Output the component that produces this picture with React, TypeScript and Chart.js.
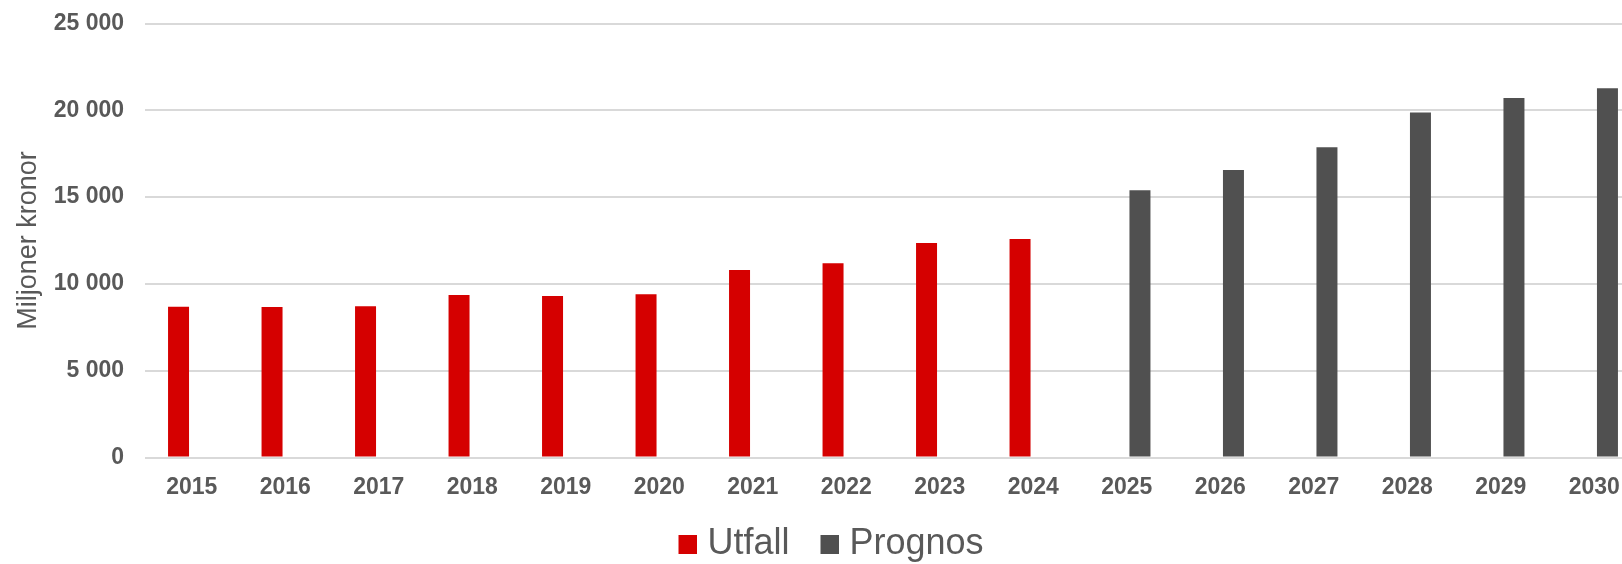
import { useEffect, useRef } from 'react';
import { Chart, registerables } from 'chart.js';

Chart.register(...registerables);

const years = ['2015', '2016', '2017', '2018', '2019', '2020', '2021', '2022', '2023', '2024', '2025', '2026', '2027', '2028', '2029', '2030'];
const utfall = [8690, 8670, 8710, 9360, 9300, 9400, 10800, 11190, 12360, 12590, null, null, null, null, null, null];
const prognos = [null, null, null, null, null, null, null, null, null, null, 15390, 16560, 17870, 19880, 20710, 21270];
const yTicks = [0, 5000, 10000, 15000, 20000, 25000];
const seriesNames = ['Utfall', 'Prognos'];

const RED = '#D50000';
const GRAY = '#505050';
const TEXT = '#595959';
const FONT = "'Liberation Sans', Arial, sans-serif";
const W = 1641;
const H = 564;

function fmt(v: number): string {
  return String(v).replace(/\B(?=(\d{3})+(?!\d))/g, ' ');
}

function swatch(color: string): HTMLCanvasElement {
  const c = document.createElement('canvas');
  c.width = 48;
  c.height = 19;
  const g = c.getContext('2d')!;
  g.fillStyle = color;
  g.fillRect(29, 0, 19, 19);
  return c;
}

export default function App() {
  const ref = useRef<HTMLCanvasElement>(null);

  useEffect(() => {
    if (!ref.current) return;
    const swatches = [swatch(RED), swatch(GRAY)];
    const chart = new Chart(ref.current, {
      type: 'bar',
      data: {
        labels: years,
        datasets: [
          { label: seriesNames[0], data: utfall, backgroundColor: RED, yAxisID: 'y', categoryPercentage: 0.565, barPercentage: 0.795 },
          { label: seriesNames[1], data: prognos, backgroundColor: GRAY, yAxisID: 'y', categoryPercentage: 0.565, barPercentage: 0.795 },
        ],
      },
      options: {
        responsive: false,
        animation: false,
        layout: { padding: { left: 0, right: 0, top: 23.5, bottom: -8 } },
        plugins: {
          tooltip: { enabled: false },
          legend: {
            position: 'bottom',
            labels: {
              usePointStyle: true,
              pointStyleWidth: 32,
              padding: 10,
              color: TEXT,
              font: { family: FONT, size: 36 },
              generateLabels: (ch: any) => {
                const items = (Chart as any).defaults.plugins.legend.labels.generateLabels(ch);
                items.forEach((it: any, i: number) => {
                  it.pointStyle = swatches[i];
                  it.lineWidth = 0;
                  it.fontColor = TEXT;
                });
                return items;
              },
            },
          },
        },
        scales: {
          x: {
            grid: { display: false },
            border: { display: false },
            ticks: { color: TEXT, font: { family: FONT, size: 23, weight: 'bold' }, padding: 8 },
            afterFit: (s: any) => { s.height = 58.5; },
          },
          y: {
            min: 0,
            max: 25000,
            afterBuildTicks: (s: any) => { s.ticks = yTicks.map((v) => ({ value: v })); },
            grid: { color: '#D9D9D9', lineWidth: 2, drawTicks: true, tickLength: 21, tickColor: 'rgba(0,0,0,0)' },
            border: { display: false },
            ticks: {
              color: TEXT,
              font: { family: FONT, size: 23, weight: 'bold' },
              padding: 0,
              callback: (v: any) => fmt(Number(v)),
            },
            title: {
              display: true,
              text: 'Miljoner kronor',
              color: TEXT,
              font: { family: FONT, size: 27 },
              padding: { top: 12.8, bottom: 4 },
            },
            afterFit: (s: any) => { s.width = 145; },
          },
        },
      } as any,
    });
    return () => chart.destroy();
  }, []);

  return (
    <div style={{ position: 'fixed', left: 0, top: 0, width: 1622, height: 564, overflow: 'hidden', background: '#fff' }}>
      <canvas ref={ref} width={W} height={H} style={{ display: 'block', width: W, height: H }} />
    </div>
  );
}
